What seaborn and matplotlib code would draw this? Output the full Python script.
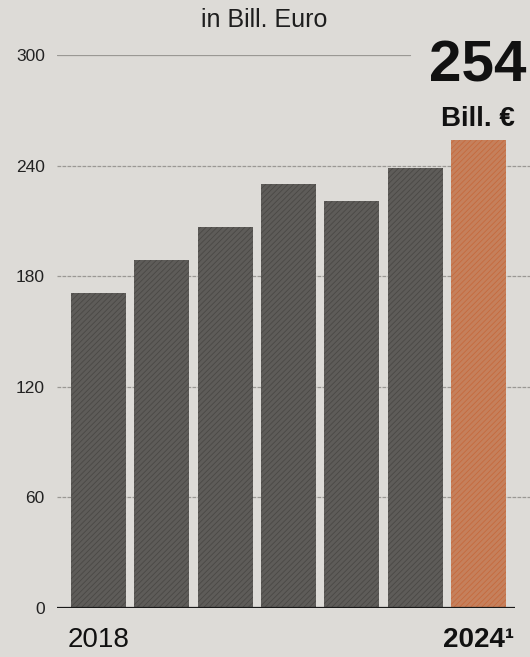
import pandas as pd
import seaborn as sns
import matplotlib.pyplot as plt

# Werte (in Bill. Euro)
years = ['2018', '2019', '2020', '2021', '2022', '2023', '2024']
values = [171, 189, 207, 230, 221, 239, 254]
tick_labels = ['2018', '', '', '', '', '', '2024¹']

df = pd.DataFrame({'year': years, 'value': values})
df['kind'] = ['past'] * 6 + ['latest']

paper = '#dddbd7'
sns.set_theme(style='white')
plt.rcParams['font.family'] = ['Liberation Sans', 'DejaVu Sans']
plt.rcParams['hatch.linewidth'] = 0.6

fig = plt.figure(figsize=(5.3, 6.57), dpi=100, facecolor=paper)
ax = fig.add_axes([0.108, 0.0746, 0.864, 0.8414], facecolor=paper)

# Hilfslinien
for y in [60, 120, 180, 240]:
    ax.axhline(y, xmin=0, xmax=1.04, color='#9a9894', lw=0.9, ls=(0, (3, 1)),
               zorder=0, clip_on=False)
ax.axhline(300, xmin=0, xmax=0.77, color='#9a9894', lw=0.9, zorder=0)

sns.barplot(data=df, x='year', y='value', hue='kind',
            palette={'past': '#5f5c58', 'latest': '#d67b4b'},
            width=0.87, legend=False, ax=ax, zorder=2)
for i, bar in enumerate(ax.patches):
    bar.set_hatch('//////')
    bar.set_edgecolor('#4a4845' if i < 6 else '#c56a3d')
    bar.set_linewidth(0)

ax.axhline(0, color='#1a1a1a', lw=1.6, zorder=3)
ax.set_ylim(0, 300)
ax.set_xlim(-0.65, 6.58)
ax.set_yticks([0, 60, 120, 180, 240, 300])
ax.set_xticks(range(len(years)))
ax.set_xticklabels(tick_labels)
ax.tick_params(axis='y', length=0, pad=9, labelsize=12.5, labelcolor='#222222')
ax.tick_params(axis='x', length=0, pad=14, labelsize=20, labelcolor='#111111')
ax.get_xticklabels()[-1].set_fontweight('bold')
ax.set_xlabel('')
ax.set_ylabel('')
sns.despine(ax=ax, left=True, bottom=True, top=True, right=True)

fig.text(0.498, 1 - 27 / 657, 'in Bill. Euro', ha='center', va='baseline',
         fontsize=18, color='#1e1e1e')

# große Kennzahl oben rechts
fig.text(0.902, 1 - 82 / 657, '254', ha='center', va='baseline',
         fontsize=42, fontweight='bold', color='#111111')
fig.text(0.902, 1 - 126 / 657, 'Bill. €', ha='center', va='baseline',
         fontsize=20, fontweight='bold', color='#111111')

fig.savefig('out.png', dpi=100, facecolor=paper)
